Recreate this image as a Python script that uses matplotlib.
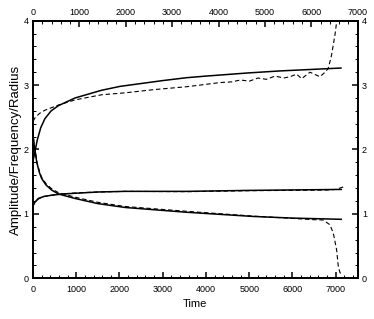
import matplotlib
matplotlib.use("Agg")
import matplotlib.pyplot as plt
from matplotlib.ticker import MultipleLocator

plt.rcParams['font.family'] = ['Liberation Sans', 'DejaVu Sans']

# Radius (upper) - solid
t_rad = [0, 20, 46, 100, 180, 277, 420, 586, 971, 1588, 2012, 3000, 3554, 4000, 5000, 5712, 7123]
v_rad = [1.82, 1.88, 1.97, 2.15, 2.34, 2.48, 2.60, 2.68, 2.80, 2.92, 2.98, 3.07, 3.115, 3.14, 3.19, 3.22, 3.265]
# Radius (upper) - dashed
t_rad_d = [0, 46, 150, 277, 586, 971, 1588, 2128, 2800, 3554, 3862, 4332, 4600, 4800, 5000, 5200, 5400, 5600, 5800,
           5944, 6098, 6214, 6406, 6637, 6753, 6830, 6907, 6984, 7023, 7040]
v_rad_d = [2.44, 2.49, 2.56, 2.61, 2.69, 2.77, 2.85, 2.88, 2.93, 2.975, 3.0, 3.04, 3.05, 3.08, 3.06, 3.11, 3.09, 3.14, 3.11,
           3.13, 3.17, 3.10, 3.20, 3.13, 3.20, 3.26, 3.47, 3.78, 3.98, 4.1]

# Frequency (middle) - solid
t_frq = [0, 40, 123, 250, 432, 700, 971, 1500, 2128, 3561, 5000, 7130]
v_frq = [1.13, 1.18, 1.24, 1.27, 1.29, 1.31, 1.32, 1.34, 1.35, 1.35, 1.365, 1.38]
# Frequency (middle) - dashed
t_frq_d = [0, 40, 123, 250, 432, 700, 971, 1500, 2128, 3561, 5000, 6800, 7000, 7185]
v_frq_d = [1.12, 1.17, 1.23, 1.27, 1.29, 1.31, 1.325, 1.34, 1.35, 1.345, 1.36, 1.37, 1.38, 1.42]

# Amplitude (decaying) - solid
t_amp = [0, 20, 46, 90, 150, 200, 300, 432, 586, 971, 1500, 2128, 3561, 5104, 6000, 7130]
v_amp = [2.25, 2.10, 1.99, 1.79, 1.64, 1.55, 1.45, 1.37, 1.31, 1.24, 1.16, 1.10, 1.025, 0.96, 0.935, 0.916]
# Amplitude (decaying) - dashed
t_amp_d = [0, 20, 46, 90, 150, 200, 300, 432, 586, 971, 1500, 2128, 3561, 5104, 6000, 6500, 6714, 6869, 6946, 7023, 7062, 7100, 7139]
v_amp_d = [2.27, 2.12, 2.01, 1.81, 1.66, 1.57, 1.47, 1.39, 1.33, 1.26, 1.18, 1.115, 1.04, 0.965, 0.93, 0.91, 0.905, 0.83, 0.70, 0.44, 0.18, 0.09, 0.05]

fig = plt.figure(figsize=(3.74, 3.19), dpi=100)
ax = fig.add_axes([0.0882, 0.1276, 0.8682, 0.8075])

lw_s = 1.1
lw_d = 0.8
ax.plot(t_rad, v_rad, color='black', lw=lw_s)
ax.plot(t_rad_d, v_rad_d, color='black', lw=lw_d, linestyle=(0, (4, 2.5)))
ax.plot(t_frq, v_frq, color='black', lw=lw_s)
ax.plot(t_frq_d, v_frq_d, color='black', lw=lw_d, linestyle=(0, (4, 2.5)))
ax.plot(t_amp, v_amp, color='black', lw=lw_s)
ax.plot(t_amp_d, v_amp_d, color='black', lw=lw_d, linestyle=(0, (4, 2.5)))

ax.set_xlim(0, 7510)
ax.set_ylim(0, 4)
ax.xaxis.set_major_locator(MultipleLocator(1000))
ax.xaxis.set_minor_locator(MultipleLocator(200))
ax.yaxis.set_major_locator(MultipleLocator(1))
ax.yaxis.set_minor_locator(MultipleLocator(0.2))

ax2 = ax.twiny()
ax2.set_xlim(0, 7000)
ax2.xaxis.set_major_locator(MultipleLocator(1000))
ax2.xaxis.set_minor_locator(MultipleLocator(200))

ax3 = ax.twinx()
ax3.set_ylim(0, 4)
ax3.yaxis.set_major_locator(MultipleLocator(1))
ax3.yaxis.set_minor_locator(MultipleLocator(0.2))

for a in (ax, ax2, ax3):
    a.tick_params(which='major', direction='in', length=4, width=1.1, labelsize=6.5, pad=3)
    a.tick_params(which='minor', direction='in', length=2, width=0.7)
    for s in a.spines.values():
        s.set_linewidth(1.1)
ax.tick_params(axis='x', which='major', pad=4.5)

ax.set_xlabel('Time', fontsize=8, labelpad=4)
ax.set_ylabel('Amplitude/Frequency/Radius', fontsize=9.5, labelpad=1)

fig.savefig('out.png', dpi=100)
